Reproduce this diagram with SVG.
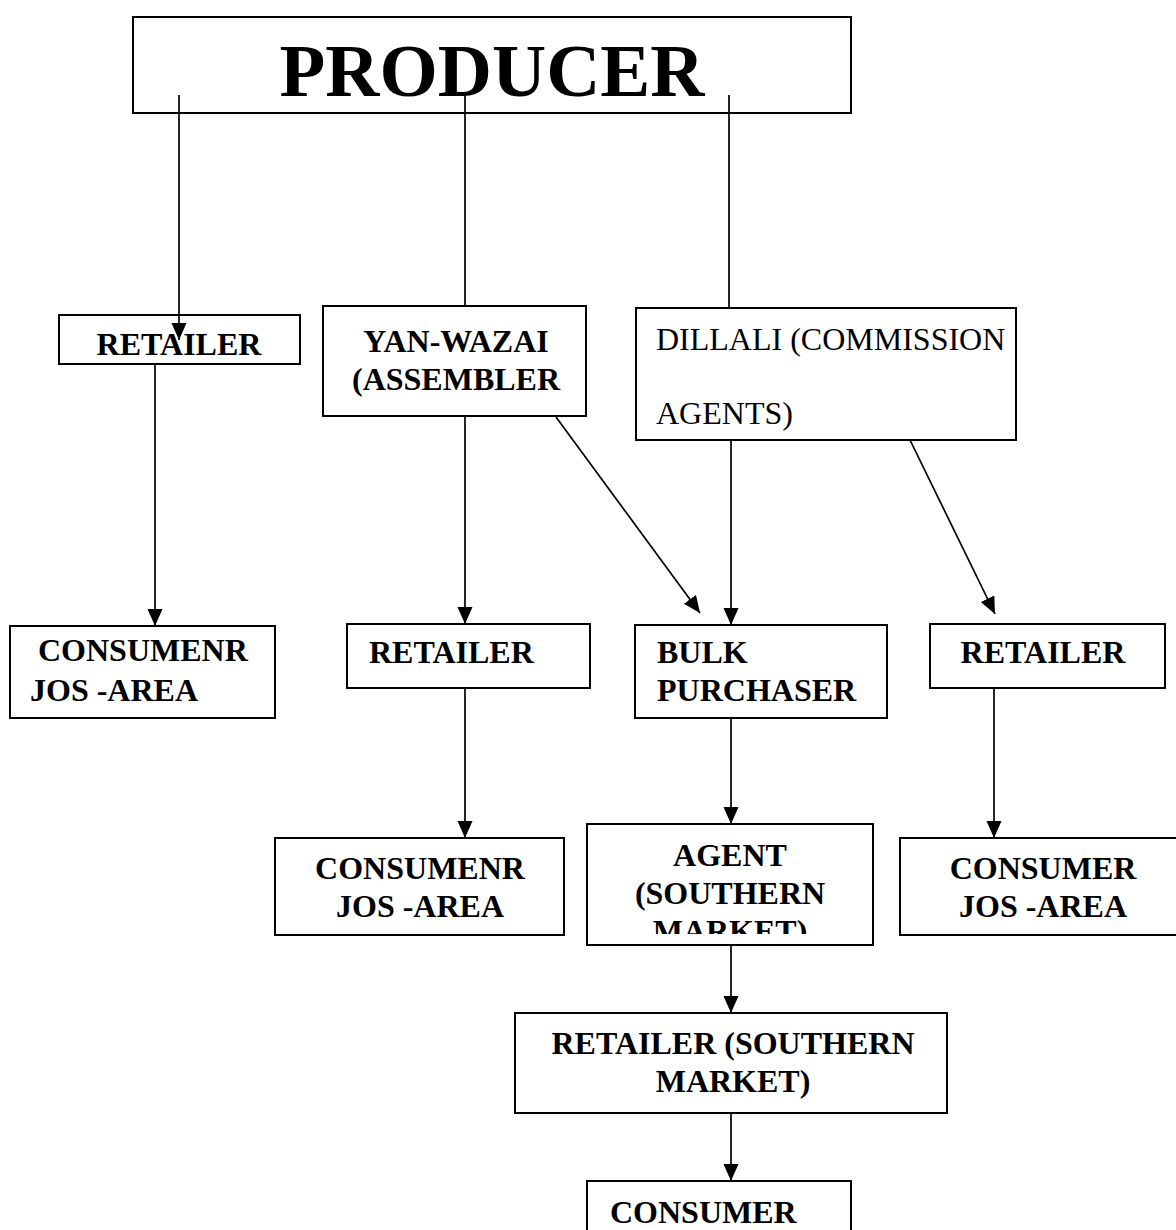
<svg xmlns="http://www.w3.org/2000/svg" width="1176" height="1230" viewBox="0 0 1176 1230">
<style>
.box{fill:#fff;stroke:#000;stroke-width:2}
.t{font-family:"Liberation Serif","Times New Roman",serif;font-weight:bold;font-size:32px;fill:#000}
.r{font-family:"Liberation Serif","Times New Roman",serif;font-size:32px;fill:#000}
.c{text-anchor:middle}
.ln{stroke:#000;stroke-width:1.7;fill:none}
.arr{stroke:#000;stroke-width:1.7;fill:none;marker-end:url(#ah)}
</style>
<defs>
<marker id="ah" markerUnits="userSpaceOnUse" markerWidth="19" markerHeight="16" refX="17" refY="7.5" orient="auto">
<path d="M0,0 L17,7.5 L0,15 z" fill="#000"/>
</marker>
<clipPath id="agentclip"><rect x="587" y="824" width="286" height="110"/></clipPath>
</defs>
<rect width="1176" height="1230" fill="#fff"/>

<g id="producer">
<rect class="box" x="133" y="17" width="718" height="96"/>
<text class="t c" x="492" y="96" style="font-size:75px">PRODUCER</text>
</g>

<g id="retailer-left">
<rect class="box" x="59" y="315" width="241" height="49"/>
<text class="t c" x="179" y="355">RETAILER</text>
</g>

<g id="yan-wazai">
<rect class="box" x="323" y="306" width="263" height="110"/>
<text class="t c" x="456" y="352">YAN-WAZAI</text>
<text class="t c" x="456" y="390">(ASSEMBLER</text>
</g>

<g id="dillali">
<rect class="box" x="636" y="308" width="380" height="132"/>
<text class="r" x="656" y="350">DILLALI (COMMISSION</text>
<text class="r" x="656" y="424">AGENTS)</text>
</g>

<g id="consumer-left">
<rect class="box" x="10" y="626" width="265" height="92"/>
<text class="t" x="38" y="661">CONSUMENR</text>
<text class="t" x="30" y="701">JOS -AREA</text>
</g>

<g id="retailer-mid">
<rect class="box" x="347" y="624" width="243" height="64"/>
<text class="t" x="369" y="663">RETAILER</text>
</g>

<g id="bulk">
<rect class="box" x="635" y="625" width="252" height="93"/>
<text class="t" x="657" y="663">BULK</text>
<text class="t" x="657" y="701">PURCHASER</text>
</g>

<g id="retailer-right">
<rect class="box" x="930" y="624" width="235" height="64"/>
<text class="t c" x="1043" y="663">RETAILER</text>
</g>

<g id="consumer-mid">
<rect class="box" x="275" y="838" width="289" height="97"/>
<text class="t c" x="420" y="879">CONSUMENR</text>
<text class="t c" x="420" y="917">JOS -AREA</text>
</g>

<g id="agent">
<rect class="box" x="587" y="824" width="286" height="121"/>
<g clip-path="url(#agentclip)">
<text class="t c" x="730" y="866">AGENT</text>
<text class="t c" x="730" y="904">(SOUTHERN</text>
<text class="t c" x="730" y="942">MARKET)</text>
</g>
</g>

<g id="consumer-right">
<rect class="box" x="900" y="838" width="290" height="97"/>
<text class="t c" x="1043" y="879">CONSUMER</text>
<text class="t c" x="1043" y="917">JOS -AREA</text>
</g>

<g id="retailer-southern">
<rect class="box" x="515" y="1013" width="432" height="100"/>
<text class="t c" x="733" y="1054">RETAILER (SOUTHERN</text>
<text class="t c" x="733" y="1092">MARKET)</text>
</g>

<g id="consumer-bottom">
<rect class="box" x="587" y="1181" width="264" height="60"/>
<text class="t" x="610" y="1223">CONSUMER</text>
</g>

<g id="connectors">
<line class="arr" x1="179" y1="95" x2="179" y2="340"/>
<line class="ln" x1="465" y1="95" x2="465" y2="306"/>
<line class="ln" x1="729" y1="95" x2="729" y2="308"/>
<line class="arr" x1="155" y1="364" x2="155" y2="626"/>
<line class="arr" x1="465" y1="416" x2="465" y2="624"/>
<line class="arr" x1="556" y1="417" x2="700" y2="613"/>
<line class="arr" x1="731" y1="440" x2="731" y2="625"/>
<line class="arr" x1="910" y1="440" x2="995" y2="614"/>
<line class="arr" x1="465" y1="688" x2="465" y2="838"/>
<line class="arr" x1="731" y1="718" x2="731" y2="824"/>
<line class="arr" x1="994" y1="688" x2="994" y2="838"/>
<line class="arr" x1="731" y1="945" x2="731" y2="1013"/>
<line class="arr" x1="731" y1="1113" x2="731" y2="1181"/>
</g>
</svg>
